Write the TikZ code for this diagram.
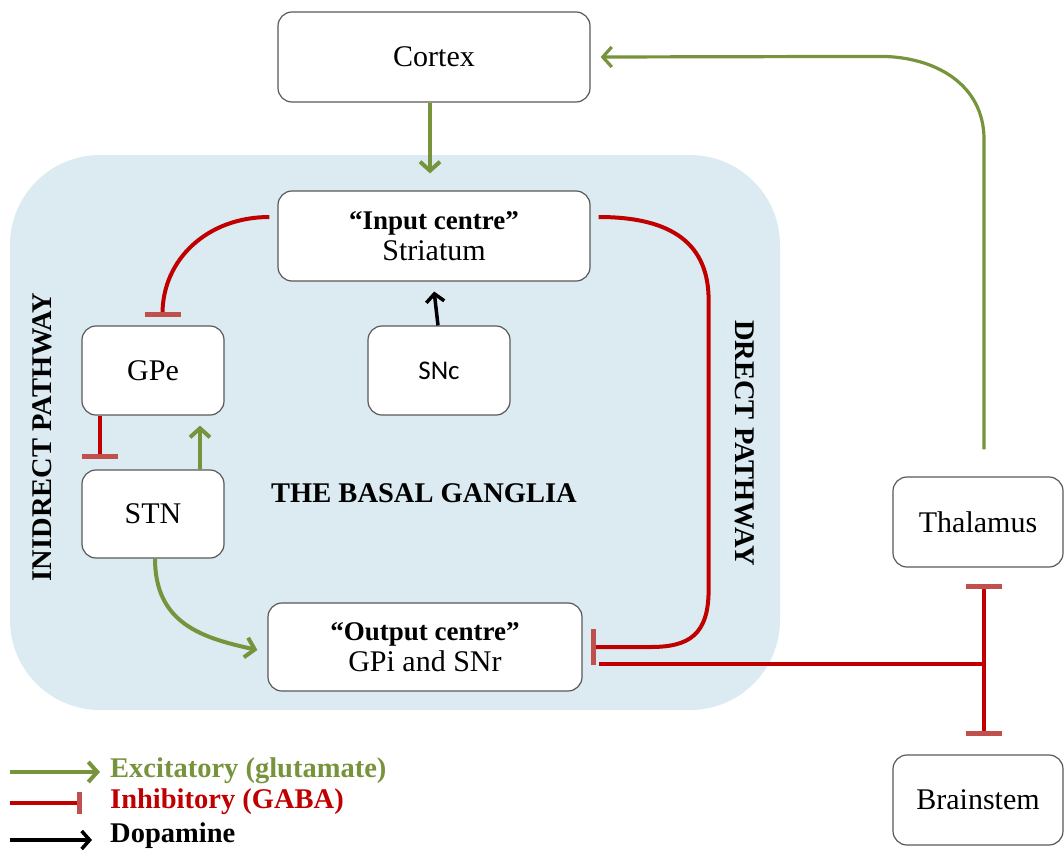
\documentclass[tikz,border=0pt]{standalone}
\usepackage{fontspec}
\setmainfont{Liberation Serif}
\newfontfamily\snfont{Carlito}
\usetikzlibrary{arrows.meta}
\definecolor{bgblue}{HTML}{DBEBF1}
\definecolor{exgreen}{HTML}{77933C}
\definecolor{inred}{HTML}{C00000}
\definecolor{barred}{HTML}{C0504D}
\definecolor{boxgray}{HTML}{595959}
\newcommand{\hd}[1]{{\fontsize{27}{31}\selectfont\bfseries #1}}
\tikzset{
  box/.style={draw=boxgray, line width=1.2pt, rounded corners=14pt, fill=white,
    inner sep=0pt, align=center, font=\fontsize{30}{31}\selectfont},
  exc/.style={draw=exgreen, line width=4pt, -{Straight Barb[length=9pt,width=20pt]}},
  inh/.style={draw=inred, line width=4pt, -{Bar[width=36pt,line width=5pt,color=barred]}},
  inhline/.style={draw=inred, line width=4pt},
  dopa/.style={draw=black, line width=3.5pt, -{Straight Barb[length=8pt,width=18pt]}},
  lbl/.style={font=\fontsize{28.5}{30}\selectfont\bfseries, inner sep=0pt},
  leg/.style={font=\fontsize{28.5}{30}\selectfont\bfseries, inner sep=0pt, anchor=west},
}
\begin{document}
\begin{tikzpicture}[x=1pt,y=-1pt]
\useasboundingbox (0,0) rectangle (1064,851);
\fill[bgblue, rounded corners=90pt] (10,155) rectangle (780,710);

\node[box, minimum width=312pt, minimum height=90pt] (cortex) at (434,57) {Cortex};
\node[box, minimum width=312pt, minimum height=90pt] (striatum) at (434,236) {\hd{``Input centre''}\\Striatum};
\node[box, minimum width=142pt, minimum height=89pt] (gpe) at (153,370.5) {GPe};
\node[box, minimum width=142pt, minimum height=89pt, font=\snfont\fontsize{27}{30}\selectfont] (snc) at (439,370.5) {SNc};
\node[box, minimum width=142pt, minimum height=88pt] (stn) at (153,514) {STN};
\node[box, minimum width=314pt, minimum height=88pt] (output) at (425,647) {\hd{``Output centre''}\\GPi and SNr};
\node[box, minimum width=170pt, minimum height=90pt] (thalamus) at (978,522) {Thalamus};
\node[box, minimum width=170pt, minimum height=90pt] (brainstem) at (978,800) {Brainstem};

\node[lbl] (title) at (424,493) {THE BASAL GANGLIA};
\node[lbl, rotate=90] (indirect) at (42,437) {INIDRECT PATHWAY};
\node[lbl, rotate=-90] (direct) at (745,443) {DRECT PATHWAY};

% cortex -> striatum
\draw[exc, shorten >=17pt] ([xshift=-4pt]cortex.south) -- ([xshift=-4pt]striatum.north);
% thalamus -> cortex
\draw[exc, line width=3.2pt] ([xshift=6pt,yshift=27pt]thalamus.north) -- ++(0,-310)
  .. controls +(0,-55) and +(55,0) .. ++(-104,-83) -- ([xshift=10pt]cortex.east);
% striatum -> GPe
\draw[inh] ([xshift=-8pt,yshift=19pt]striatum.west) .. controls +(-62,0) and +(0,-58) .. ([xshift=9.5pt,yshift=8pt]gpe.north);
% direct pathway
\draw[inh] ([xshift=8pt,yshift=19pt]striatum.east) .. controls +(75,0) and +(0,-55) .. ++(110,83)
  -- ++(0,290) .. controls +(0,45) and +(38,0) .. ++(-58,57) -- ([xshift=8pt]output.east);
% GPe -> STN
\draw[inh] ([xshift=-53pt]gpe.south) -- ([xshift=-53pt,yshift=10pt]stn.north);
% STN -> GPe
\draw[exc] ([xshift=47pt]stn.north) -- ([xshift=47pt,yshift=-10pt]gpe.south);
% STN -> output
\draw[exc] ([xshift=2pt]stn.south) .. controls +(0,65) and +(-55,-12) .. ([xshift=-10pt,yshift=-3pt]output.west);
% SNc -> striatum
\draw[dopa, shorten >=10pt] ([xshift=-1pt]snc.north) -- ([xshift=-1pt]striatum.south);
% output -> thalamus / brainstem
\coordinate (j) at (984,664);
\draw[inhline] ([xshift=16pt,yshift=-17pt]output.east) -- (j);
\draw[inh] (j) -- ([xshift=6pt,yshift=-16pt]thalamus.south);
\draw[inh] (j) -- ([xshift=6pt,yshift=18pt]brainstem.north);

% legend
\coordinate (l1a) at (10,772); \coordinate (l1b) at (100,772);
\coordinate (l2a) at (10,803); \coordinate (l2b) at (82,803);
\coordinate (l3a) at (10,840); \coordinate (l3b) at (92,840);
\draw[exc] (l1a) -- (l1b);
\draw[inred, line width=4pt, -{Bar[width=22pt,line width=5pt,color=barred]}] (l2a) -- (l2b);
\draw[dopa] (l3a) -- (l3b);
\node[leg, text=exgreen] (lg1) at (110,771) {Excitatory (glutamate)};
\node[leg, text=inred] (lg2) at (110,802) {Inhibitory (GABA)};
\node[leg, text=black] (lg3) at (110,836) {Dopamine};
\end{tikzpicture}
\end{document}
